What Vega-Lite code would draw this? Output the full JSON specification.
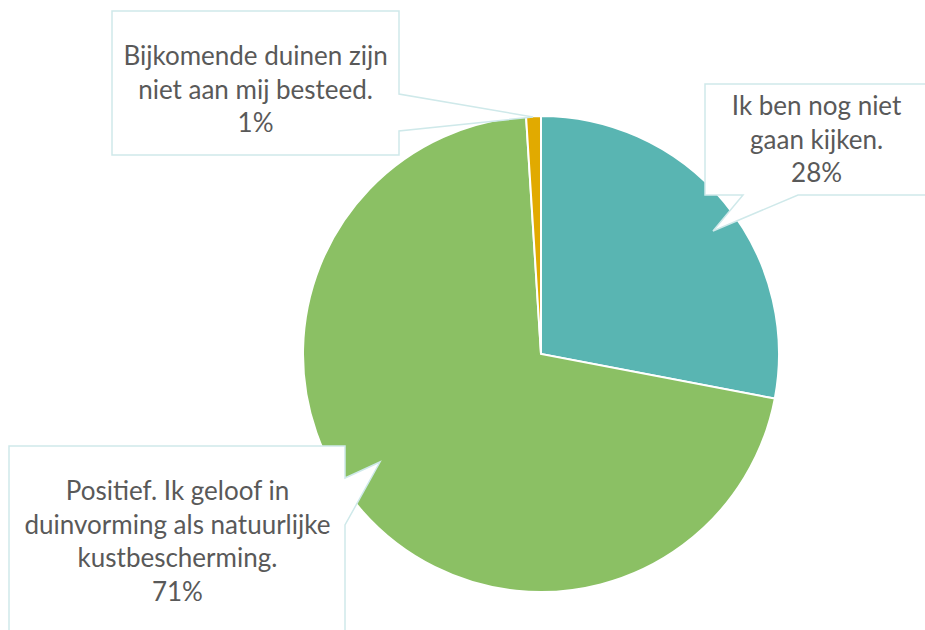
{
  "$schema": "https://vega.github.io/schema/vega-lite/v6.json",
  "width": 768,
  "height": 552,
  "autosize": "none",
  "padding": {"left": 157, "top": 78, "right": 0, "bottom": 0},
  "background": "white",
  "config": {"view": {"stroke": null}},
  "data": {
    "values": [
      {"cat": "Ik ben nog niet gaan kijken.", "label": "Ik ben nog niet\ngaan kijken.\n28%", "pct": 28},
      {"cat": "Positief. Ik geloof in duinvorming als natuurlijke kustbescherming.", "label": "Positief. Ik geloof in\nduinvorming als natuurlijke\nkustbescherming.\n71%", "pct": 71},
      {"cat": "Bijkomende duinen zijn niet aan mij besteed.", "label": "Bijkomende duinen zijn\nniet aan mij besteed.\n1%", "pct": 1}
    ]
  },
  "transform": [{"window": [{"op": "row_number", "as": "rank"}]}],
  "layer": [
    {
      "mark": {"type": "arc", "outerRadius": 238, "stroke": "white", "strokeWidth": 2},
      "encoding": {
        "theta": {"field": "pct", "type": "quantitative", "stack": true},
        "order": {"field": "rank", "type": "quantitative"},
        "color": {
          "field": "cat",
          "type": "nominal",
          "scale": {
            "domain": ["Ik ben nog niet gaan kijken.", "Positief. Ik geloof in duinvorming als natuurlijke kustbescherming.", "Bijkomende duinen zijn niet aan mij besteed."],
            "range": ["#59B5B2", "#8BC064", "#E1AA00"]
          },
          "legend": null
        }
      }
    },
    {
      "transform": [{"filter": "datum.cat === 'Bijkomende duinen zijn niet aan mij besteed.'"}],
      "mark": {"type": "point", "shape": "M-429,-343 L-142,-343 L-142,-260 L-8,-237 L-142,-223 L-142,-199 L-429,-199 Z", "size": 4, "filled": true, "fill": "white", "stroke": "#CFE9EA", "strokeWidth": 1.5, "opacity": 1},
      "encoding": {}
    },
    {
      "transform": [{"filter": "datum.cat === 'Ik ben nog niet gaan kijken.'"}],
      "mark": {"type": "point", "shape": "M164,-270 L395,-270 L395,-159 L257,-159 L172,-123 L202,-159 L164,-159 Z", "size": 4, "filled": true, "fill": "white", "stroke": "#CFE9EA", "strokeWidth": 1.5, "opacity": 1},
      "encoding": {}
    },
    {
      "transform": [{"filter": "datum.cat === 'Positief. Ik geloof in duinvorming als natuurlijke kustbescherming.'"}],
      "mark": {"type": "point", "shape": "M-532,92 L-196,92 L-196,124 L-161,108 L-196,171 L-196,290 L-532,290 Z", "size": 4, "filled": true, "fill": "white", "stroke": "#CFE9EA", "strokeWidth": 1.5, "opacity": 1},
      "encoding": {}
    },
    {
      "mark": {"type": "text", "radius": 346, "dx": 9, "dy": -26, "font": "Lato", "fontSize": 26, "lineHeight": 33.5, "lineBreak": "\n", "color": "#595959", "align": "center", "baseline": "middle"},
      "encoding": {
        "theta": {"field": "pct", "type": "quantitative", "stack": true},
        "order": {"field": "rank", "type": "quantitative"},
        "text": {"condition": {"test": "datum.cat === 'Ik ben nog niet gaan kijken.'", "field": "label"}, "value": ""}
      }
    },
    {
      "mark": {"type": "text", "radius": 300, "dx": -276, "dy": 3, "font": "Lato", "fontSize": 26, "lineHeight": 33.5, "lineBreak": "\n", "color": "#595959", "align": "center", "baseline": "middle"},
      "encoding": {
        "theta": {"field": "pct", "type": "quantitative", "stack": true},
        "order": {"field": "rank", "type": "quantitative"},
        "text": {"condition": {"test": "datum.cat === 'Bijkomende duinen zijn niet aan mij besteed.'", "field": "label"}, "value": ""}
      }
    },
    {
      "mark": {"type": "text", "radius": 330, "dx": -116, "dy": -80, "font": "Lato", "fontSize": 26, "lineHeight": 33.5, "lineBreak": "\n", "color": "#595959", "align": "center", "baseline": "middle"},
      "encoding": {
        "theta": {"field": "pct", "type": "quantitative", "stack": true},
        "order": {"field": "rank", "type": "quantitative"},
        "text": {"condition": {"test": "datum.cat === 'Positief. Ik geloof in duinvorming als natuurlijke kustbescherming.'", "field": "label"}, "value": ""}
      }
    }
  ]
}
